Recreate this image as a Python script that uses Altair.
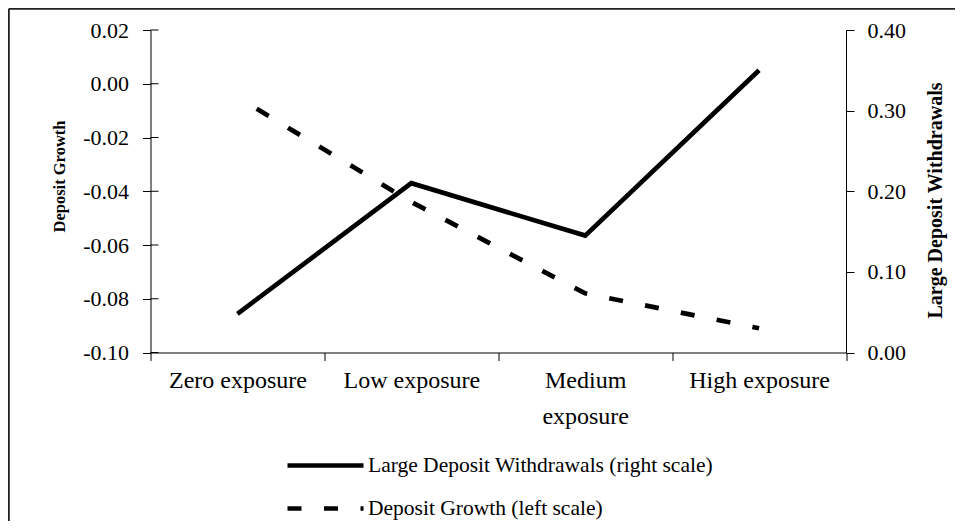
import altair as alt
import pandas as pd

# ---- data ----
categories = ["Zero exposure", "Low exposure", "Medium exposure", "High exposure"]
deposit_growth = [-0.005, -0.044, -0.078, -0.091]          # left scale
large_withdrawals = [0.048, 0.210, 0.145, 0.350]            # right scale
left_ticks = [-0.10, -0.08, -0.06, -0.04, -0.02, 0.00, 0.02]
right_ticks = [0.00, 0.10, 0.20, 0.30, 0.40]
series_names = ["Large Deposit Withdrawals (right scale)", "Deposit Growth (left scale)"]
left_title = "Deposit Growth"
right_title = "Large Deposit Withdrawals"
wrapped = {"Medium exposure": ["Medium", "exposure"]}

df_growth = pd.DataFrame({"category": categories, "value": deposit_growth, "series": series_names[1]})
df_withd = pd.DataFrame({"category": categories, "value": large_withdrawals, "series": series_names[0]})
df_lticks = pd.DataFrame({"tick": left_ticks})
df_one = pd.DataFrame({"a": [0]})

FONT = "Liberation Serif"
W, H = 695.5, 322.5
PAD_L, PAD_T = 142.5, 22
TOTAL_W, TOTAL_H = 947, 513

label_expr = " : ".join(
    [f"datum.label == '{k}' ? {v!r}" for k, v in wrapped.items()] + ["datum.label"]
)
num_expr = "(datum.value < -1e-9 ? '-' : '') + format(abs(datum.value), '.2f')"

x_enc = alt.X(
    "category:N",
    sort=categories,
    scale=alt.Scale(type="band", paddingInner=0, paddingOuter=0),
    axis=alt.Axis(
        title=None, tickBand="extent", tickSize=8, labelAngle=0,
        labelFont=FONT, labelFontSize=24, labelPadding=8, labelBaseline="top",
        labelLineHeight=36, labelExpr=label_expr, labelLimit=400,
        domainColor="black", tickColor="black", labelColor="black",
    ),
)


def make_legend(y):
    return alt.Legend(
        title=None, orient="none", legendX=134.5, legendY=y, direction="vertical",
        symbolType="stroke", symbolSize=5776, symbolStrokeWidth=4.7,
        labelFont=FONT, labelFontSize=21.5, labelColor="black", labelOffset=2,
        padding=0, labelLimit=500,
    )


left_scale = alt.Scale(domain=[-0.10, 0.02], nice=False, zero=False)
right_scale = alt.Scale(domain=[0.0, 0.40], nice=False, zero=False)

growth = alt.Chart(df_growth).mark_line(
    color="black", strokeWidth=4.7, strokeDashOffset=14, strokeCap="butt"
).encode(
    x=x_enc,
    y=alt.Y(
        "value:Q", scale=left_scale,
        axis=alt.Axis(
            orient="left", values=left_ticks, labelExpr=num_expr, tickSize=8,
            labelPadding=14, labelFont=FONT, labelFontSize=22, labelColor="black",
            grid=False, domainColor="black", tickColor="black",
            title=left_title, titleFont=FONT, titleFontSize=16.5, titleFontWeight="bold",
            titleColor="black", titleAngle=270, titleX=-91.5, titleY=146,
            titleBaseline="middle", titleAlign="center",
        ),
    ),
    strokeDash=alt.StrokeDash(
        "series:N",
        scale=alt.Scale(domain=[series_names[1]], range=[[14, 22.5]]),
        legend=make_legend(438),
    ),
)

inner_ticks = alt.Chart(df_lticks).mark_rule(color="black", strokeWidth=1).encode(
    y=alt.Y("tick:Q", scale=left_scale, axis=None),
    x=alt.value(0),
    x2=alt.value(8),
)

withd = alt.Chart(df_withd).mark_line(
    strokeWidth=4.7, strokeCap="butt"
).encode(
    x=x_enc,
    y=alt.Y(
        "value:Q", scale=right_scale,
        axis=alt.Axis(
            orient="right", values=right_ticks, labelExpr=num_expr, tickSize=8,
            labelPadding=13, labelFont=FONT, labelFontSize=22, labelColor="black",
            grid=False, domainColor="black", tickColor="black",
            title=right_title, titleFont=FONT, titleFontSize=20, titleFontWeight="bold",
            titleColor="black", titleAngle=270, titleX=89, titleY=170,
            titleBaseline="middle", titleAlign="center",
        ),
    ),
    color=alt.Color(
        "series:N",
        scale=alt.Scale(domain=[series_names[0]], range=["black"]),
        legend=make_legend(395),
    ),
)

frame_top = alt.Chart(df_one).mark_rule(color="#222222", strokeWidth=2).encode(
    x=alt.value(-PAD_L + 0.8), x2=alt.value(TOTAL_W - PAD_L), y=alt.value(-PAD_T + 0.8)
)
frame_left = alt.Chart(df_one).mark_rule(color="#222222", strokeWidth=2).encode(
    x=alt.value(-PAD_L + 0.8), y=alt.value(-PAD_T + 0.8), y2=alt.value(TOTAL_H - PAD_T)
)

chart = (
    alt.layer(growth, inner_ticks, withd, frame_top, frame_left)
    .resolve_scale(y="independent")
    .properties(
        width=W, height=H,
        autosize=alt.AutoSizeParams(type="none"),
        padding={"left": PAD_L, "top": PAD_T, "right": TOTAL_W - PAD_L - W,
                 "bottom": TOTAL_H - PAD_T - H},
        background="white",
    )
    .configure_view(stroke=None)
)

chart.save("out.html", embed_options={"renderer": "svg", "actions": False})
